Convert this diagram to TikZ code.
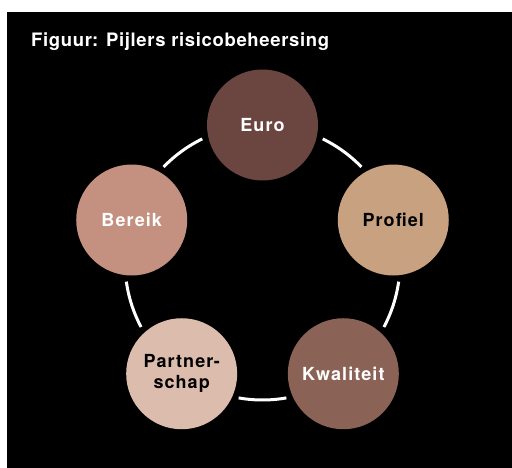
\documentclass[tikz,border=0pt]{standalone}
\usepackage{fontspec}
\usetikzlibrary{calc}
\setmainfont{TeX Gyre Heros}
\newfontfamily\lblfont[LetterSpace=6]{TeX Gyre Heros}
\newfontfamily\ttlfont[LetterSpace=3.5]{TeX Gyre Heros}
\definecolor{cEuro}{HTML}{6B4640}
\definecolor{cProfiel}{HTML}{C8A180}
\definecolor{cKwal}{HTML}{8B6256}
\definecolor{cPartner}{HTML}{DCBCAC}
\definecolor{cBereik}{HTML}{C49080}
\begin{document}
\begin{tikzpicture}[x=1pt,y=1pt,
  pillar/.style={circle,minimum size=111pt,inner sep=0pt,align=center,
    font=\lblfont\bfseries\fontsize{18}{21}\selectfont},
  ring/.style={white,line width=3pt}]
\fill[white] (0,0) rectangle (512,468);
\fill[black] (7,0) rectangle (512,456);
\node[anchor=base west,text=white,font=\ttlfont\bfseries\fontsize{18.5}{21}\selectfont,inner sep=0pt] (title) at (31,421) {Figuur: Pijlers risicobeheersing};
\coordinate (O) at (262.5,205.5);
\def\R{137.5}
\node[pillar,fill=cEuro,text=white] (euro) at ($(O)+(90:\R)$) {Euro};
\node[pillar,fill=cProfiel,text=black] (profiel) at ($(O)+(18:\R)$) {Profiel};
\node[pillar,fill=cKwal,text=white] (kwal) at ($(O)+(-54:\R)$) {Kwaliteit};
\node[pillar,fill=cPartner,text=black] (partner) at ($(O)+(-126:\R)$) {Partner-\\schap};
\node[pillar,fill=cBereik,text=white] (bereik) at ($(O)+(162:\R)$) {Bereik};
\foreach \a in {90,18,-54,-126,162}{
  \draw[ring] ($(O)+(\a-26:\R)$) arc[start angle=\a-26,end angle=\a-46,radius=\R];
}
\end{tikzpicture}
\end{document}
